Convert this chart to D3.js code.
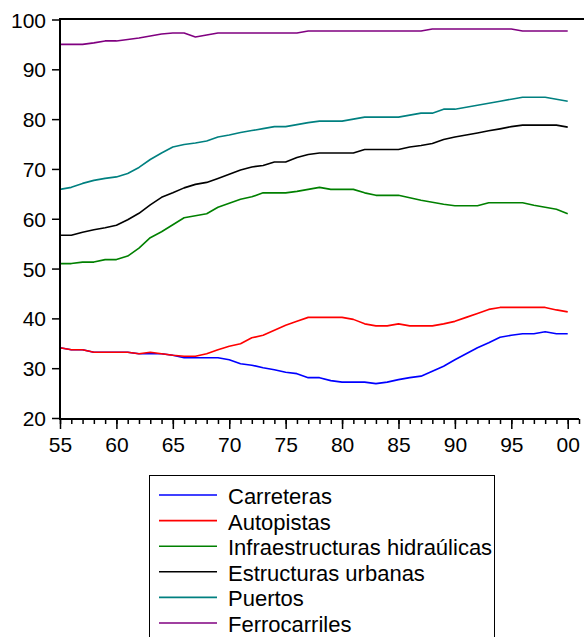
<!DOCTYPE html>
<html>
<head>
<meta charset="utf-8">
<script src="https://cdn.jsdelivr.net/npm/d3@7"></script>
<style>
html,body{margin:0;padding:0;background:#fff;}
svg{display:block;}
text{font-family:"Liberation Sans",Arial,sans-serif;fill:#000;}
</style>
</head>
<body>
<svg id="chart" width="584" height="637"></svg>
<script>
const years = d3.range(1955, 2001);
const seriesNames = ["Carreteras","Autopistas","Infraestructuras hidraúlicas","Estructuras urbanas","Puertos","Ferrocarriles"];
const seriesColors = ["#0000ff","#ff0000","#008000","#000000","#008080","#800080"];
const carreteras = [34.1,33.7,33.7,33.2,33.2,33.2,33.2,32.9,32.9,32.9,32.6,32.1,32.1,32.1,32.1,31.7,30.9,30.6,30.1,29.7,29.2,28.9,28.1,28.1,27.5,27.2,27.2,27.2,26.9,27.2,27.7,28.1,28.4,29.4,30.4,31.7,32.9,34.1,35.1,36.2,36.6,36.9,36.9,37.3,36.9,36.9];
const autopistas = [34.1,33.7,33.7,33.2,33.2,33.2,33.2,32.9,33.2,32.9,32.6,32.4,32.4,32.9,33.7,34.4,34.9,36.1,36.6,37.6,38.6,39.4,40.2,40.2,40.2,40.2,39.8,38.9,38.5,38.5,38.9,38.5,38.5,38.5,38.9,39.4,40.2,41.0,41.8,42.2,42.2,42.2,42.2,42.2,41.7,41.3];
const hidraulicas = [51.0,51.0,51.3,51.3,51.8,51.8,52.5,54.1,56.2,57.4,58.8,60.2,60.6,61.0,62.3,63.1,63.9,64.4,65.2,65.2,65.2,65.5,65.9,66.3,65.9,65.9,65.9,65.2,64.7,64.7,64.7,64.2,63.7,63.3,62.9,62.6,62.6,62.6,63.2,63.2,63.2,63.2,62.7,62.3,61.9,61.0];
const urbanas = [56.7,56.7,57.3,57.8,58.2,58.7,59.8,61.1,62.8,64.3,65.2,66.2,66.9,67.3,68.1,68.95,69.8,70.4,70.7,71.4,71.4,72.3,72.9,73.2,73.2,73.2,73.2,73.9,73.9,73.9,73.9,74.4,74.7,75.1,75.9,76.4,76.8,77.2,77.65,78.05,78.5,78.8,78.8,78.8,78.8,78.4];
const puertos = [65.9,66.3,67.1,67.7,68.1,68.4,69.1,70.3,71.9,73.2,74.4,74.9,75.2,75.6,76.4,76.8,77.3,77.7,78.1,78.5,78.5,78.9,79.3,79.6,79.6,79.6,80.0,80.4,80.4,80.4,80.4,80.8,81.2,81.2,82.0,82.0,82.4,82.8,83.2,83.6,84.0,84.4,84.4,84.4,84.0,83.6];
const ferrocarriles = [95.0,95.0,95.0,95.3,95.7,95.7,96.0,96.3,96.7,97.1,97.3,97.3,96.5,96.9,97.3,97.3,97.3,97.3,97.3,97.3,97.3,97.3,97.7,97.7,97.7,97.7,97.7,97.7,97.7,97.7,97.7,97.7,97.7,98.1,98.1,98.1,98.1,98.1,98.1,98.1,98.1,97.7,97.7,97.7,97.7,97.7];
const yTicks = [20,30,40,50,60,70,80,90,100];
const xMajorTicks = [1955,1960,1965,1970,1975,1980,1985,1990,1995,2000];

const allSeries = [carreteras, autopistas, hidraulicas, urbanas, puertos, ferrocarriles];

const svg = d3.select("#chart");
const x = d3.scaleLinear().domain([1955, 2001]).range([60, 579]);
const y = d3.scaleLinear().domain([20, 100]).range([418, 19.5]);

// series lines
const line = d3.line().x((d,i)=>x(years[i])).y(d=>y(d));
svg.append("g").selectAll("path").data(allSeries).join("path")
  .attr("d", d=>line(d))
  .attr("fill","none")
  .attr("stroke",(d,i)=>seriesColors[i])
  .attr("stroke-width",1.6)
  .attr("stroke-linejoin","round");

// frame: top line
svg.append("line").attr("x1",59).attr("x2",584).attr("y1",19).attr("y2",19)
  .attr("stroke","#000").attr("stroke-width",2);

// y axis
const yAxis = d3.axisLeft(y).tickValues(yTicks).tickSize(8).tickPadding(6).tickFormat(d3.format("d"));
const gy = svg.append("g").attr("transform","translate(60,0)").call(yAxis);
gy.select(".domain").attr("stroke","#000").attr("stroke-width",2).attr("d","M0,19V419");
gy.selectAll(".tick line").attr("stroke","#000").attr("stroke-width",1.5);
gy.selectAll(".tick text").style("font-size","21px").attr("font-family",null).attr("dy","0.36em");

// x axis minor ticks
const xMinor = d3.axisBottom(x).tickValues(d3.range(1955, 2002)).tickSize(5).tickFormat("");
const gxm = svg.append("g").attr("transform","translate(0,419)").call(xMinor);
gxm.select(".domain").remove();
gxm.selectAll(".tick line").attr("stroke","#000").attr("stroke-width",1.5);

// x axis major
const xAxis = d3.axisBottom(x).tickValues(xMajorTicks).tickSize(10).tickPadding(6)
  .tickFormat(d=>d3.format("02d")(d % 100));
const gx = svg.append("g").attr("transform","translate(0,419)").call(xAxis);
gx.select(".domain").attr("stroke","#000").attr("stroke-width",2).attr("d","M59,0H579");
gx.selectAll(".tick line").attr("stroke","#000").attr("stroke-width",1.5);
gx.selectAll(".tick text").style("font-size","21px").attr("font-family",null).attr("y",18).attr("dy","0.71em");
svg.selectAll(".tick text").attr("fill","#000");

// legend
const leg = svg.append("g");
leg.append("rect").attr("x",149.5).attr("y",475.5).attr("width",345).attr("height",200)
  .attr("fill","#fff").attr("stroke","#000").attr("stroke-width",1);
const rowY = i => 495 + i*25.6;
const items = leg.selectAll("g.item").data(seriesNames).join("g").attr("class","item");
items.append("line").attr("x1",159).attr("x2",217)
  .attr("y1",(d,i)=>rowY(i)).attr("y2",(d,i)=>rowY(i))
  .attr("stroke",(d,i)=>seriesColors[i]).attr("stroke-width",1.6);
items.append("text").attr("x",228).attr("y",(d,i)=>rowY(i)+9)
  .style("font-size","22px").text(d=>d);
</script>
</body>
</html>
